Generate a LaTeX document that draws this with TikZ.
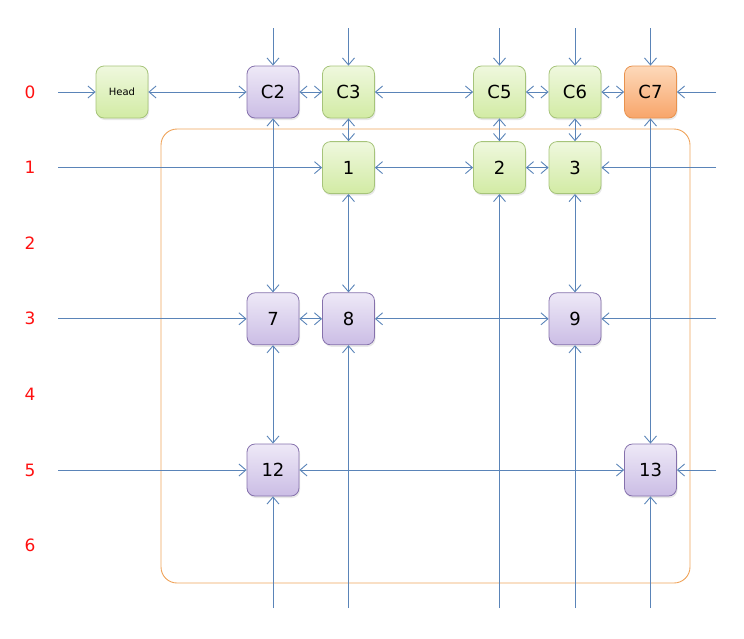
\documentclass[tikz,border=0pt]{standalone}
\usepackage{fontspec}
\setmainfont{DejaVu Sans}
\usetikzlibrary{arrows.meta,shadows}
\definecolor{ln}{HTML}{5A84B8}
\definecolor{gtop}{HTML}{EFF8DE}
\definecolor{gbot}{HTML}{D2EBA4}
\definecolor{gbd}{HTML}{A6C47A}
\definecolor{ptop}{HTML}{EEE9F7}
\definecolor{pbot}{HTML}{CBBDE5}
\definecolor{pbd}{HTML}{8571AC}
\definecolor{otop}{HTML}{FDD9BA}
\definecolor{obot}{HTML}{F8A56A}
\definecolor{obd}{HTML}{E8924E}
\definecolor{frame}{HTML}{EFA35A}
\definecolor{lab}{HTML}{FF1010}
\begin{document}
\begin{tikzpicture}[x=1pt,y=-1pt,
  cell/.style={minimum size=52pt, inner sep=0pt, rounded corners=8pt, line width=0.8pt,
    font=\fontsize{18}{20}\selectfont,
    drop shadow={opacity=0.18, shadow xshift=1pt, shadow yshift=-2pt}},
  gcell/.style={cell, draw=gbd, top color=gtop, bottom color=gbot},
  pcell/.style={cell, draw=pbd, top color=ptop, bottom color=pbot},
  ocell/.style={cell, draw=obd, top color=otop, bottom color=obot},
  tip/.tip={Straight Barb[length=7pt,width=12pt,line width=0.9pt]},
  link/.style={draw=ln, line width=0.9pt, -tip},
  blink/.style={draw=ln, line width=0.9pt, tip-tip},
  rowlab/.style={text=lab, font=\fontsize{17}{20}\selectfont},
]
\useasboundingbox (0,0) rectangle (744,638);
% frame
\draw[frame, line width=0.9pt, rounded corners=16pt] (161,129) rectangle (690,583);
% row labels
\foreach \r/\y in {0/92,1/167.6,2/243.2,3/318.8,4/394.4,5/470,6/545.6}
  \node[rowlab] (r\r) at (30,\y) {\r};
% nodes
\node[gcell, font=\fontsize{10}{12}\selectfont] (Head) at (122,92) {Head};
\node[pcell] (C2) at (273,92) {C2};
\node[gcell] (C3) at (348.5,92) {C3};
\node[gcell] (C5) at (499.5,92) {C5};
\node[gcell] (C6) at (575,92) {C6};
\node[ocell] (C7) at (650.5,92) {C7};
\node[gcell] (n1) at (348.5,167.6) {1};
\node[gcell] (n2) at (499.5,167.6) {2};
\node[gcell] (n3) at (575,167.6) {3};
\node[pcell] (n7) at (273,318.8) {7};
\node[pcell] (n8) at (348.5,318.8) {8};
\node[pcell] (n9) at (575,318.8) {9};
\node[pcell] (n12) at (273,470) {12};
\node[pcell] (n13) at (650.5,470) {13};
% free ends
\coordinate (L0) at (58,92);
\coordinate (L1) at (58,167.6);
\coordinate (L3) at (58,318.8);
\coordinate (L5) at (58,470);
\coordinate (R0) at (716,92);
\coordinate (R1) at (716,167.6);
\coordinate (R3) at (716,318.8);
\coordinate (R5) at (716,470);
\coordinate (T2) at (273,28);
\coordinate (T3) at (348.5,28);
\coordinate (T5) at (499.5,28);
\coordinate (T6) at (575,28);
\coordinate (T7) at (650.5,28);
\coordinate (B2) at (273,608);
\coordinate (B3) at (348.5,608);
\coordinate (B5) at (499.5,608);
\coordinate (B6) at (575,608);
\coordinate (B7) at (650.5,608);
% row 0
\draw[link] (L0) -- (Head);
\draw[blink] (Head) -- (C2);
\draw[blink] (C2) -- (C3);
\draw[blink] (C3) -- (C5);
\draw[blink] (C5) -- (C6);
\draw[blink] (C6) -- (C7);
\draw[link] (R0) -- (C7);
% top inputs
\draw[link] (T2) -- (C2);
\draw[link] (T3) -- (C3);
\draw[link] (T5) -- (C5);
\draw[link] (T6) -- (C6);
\draw[link] (T7) -- (C7);
% row 1
\draw[link] (L1) -- (n1);
\draw[blink] (n1) -- (n2);
\draw[blink] (n2) -- (n3);
\draw[link] (R1) -- (n3);
% verticals
\draw[blink] (C3) -- (n1);
\draw[blink] (C5) -- (n2);
\draw[blink] (C6) -- (n3);
\draw[blink] (C2) -- (n7);
\draw[blink] (C7) -- (n13);
\draw[blink] (n1) -- (n8);
\draw[blink] (n3) -- (n9);
\draw[link] (B5) -- (n2);
% row 3
\draw[link] (L3) -- (n7);
\draw[blink] (n7) -- (n8);
\draw[blink] (n8) -- (n9);
\draw[link] (R3) -- (n9);
\draw[blink] (n7) -- (n12);
\draw[link] (B3) -- (n8);
\draw[link] (B6) -- (n9);
% row 5
\draw[link] (L5) -- (n12);
\draw[blink] (n12) -- (n13);
\draw[link] (R5) -- (n13);
\draw[link] (B2) -- (n12);
\draw[link] (B7) -- (n13);
\end{tikzpicture}
\end{document}
